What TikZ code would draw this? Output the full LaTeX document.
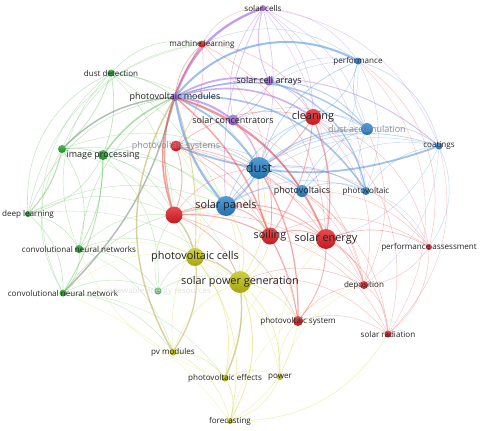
\documentclass[tikz,border=0pt]{standalone}
\usepackage{fontspec}
\setmainfont{Open Sans}
\usetikzlibrary{backgrounds}
\definecolor{vred}{RGB}{226,30,36}
\definecolor{vblue}{RGB}{40,132,205}
\definecolor{vgreen}{RGB}{38,165,45}
\definecolor{vpurple}{RGB}{160,105,220}
\definecolor{vyellow}{RGB}{195,195,20}
\definecolor{ered}{RGB}{240,85,85}
\definecolor{eblue}{RGB}{95,155,225}
\definecolor{egreen}{RGB}{100,190,95}
\definecolor{epurple}{RGB}{170,115,230}
\definecolor{eyellow}{RGB}{215,215,70}
\definecolor{eolive}{RGB}{185,170,70}
\definecolor{egray}{RGB}{115,135,125}
\definecolor{lbl}{RGB}{35,35,35}
\tikzstyle{kw}=[circle,inner sep=0pt,draw=none]
\tikzstyle{kred}=[kw,top color=vred!80!white,bottom color=vred!85!black]
\tikzstyle{kblue}=[kw,top color=vblue!80!white,bottom color=vblue!85!black]
\tikzstyle{kgreen}=[kw,top color=vgreen!80!white,bottom color=vgreen!85!black]
\tikzstyle{kpurple}=[kw,top color=vpurple!80!white,bottom color=vpurple!85!black]
\tikzstyle{kyellow}=[kw,top color=vyellow!80!white,bottom color=vyellow!85!black]
\tikzstyle{lbls}=[font=\fontsize{11.5}{12}\selectfont,text=lbl,inner sep=0pt]
\tikzstyle{lblm}=[font=\fontsize{12.8}{13}\selectfont,text=lbl,inner sep=0pt]
\tikzstyle{lbll}=[font=\fontsize{15.5}{16}\selectfont,text=lbl,inner sep=0pt]
\tikzstyle{lbld}=[font=\fontsize{18}{18}\selectfont,text=lbl,inner sep=0pt]
\tikzstyle{faded}=[text=black!45]

\begin{document}
\begin{tikzpicture}[x=0.5mm,y=-0.5mm]
\useasboundingbox (0,0) rectangle (480,431);

\node[kpurple,minimum size=3mm,label={[lbls]center:solar cells}] (solarcells) at (263,8) {};
\node[kpurple,minimum size=4mm,label={[lblm]center:photovoltaic modules}] (pvmodules) at (175,97) {};
\node[kpurple,minimum size=4.5mm,label={[lblm]center:solar cell arrays}] (cellarrays) at (269,81) {};
\node[kpurple,minimum size=5.5mm,label={[lblm]center:solar concentrators}] (concentrators) at (233,120) {};

\node[kred,minimum size=3.5mm,label={[lbls]center:machine learning}] (mlearning) at (202,44) {};
\node[kred,minimum size=8mm,label={[lbll]center:cleaning}] (cleaning) at (313,117) {};
\node[kred,minimum size=5.5mm,label={[lblm,faded]center:photovoltaic systems}] (pvsystems) at (176,146) {};
\node[kred,minimum size=8.5mm] (redhub) at (174,215) {};
\node[kred,minimum size=8.5mm,label={[lbll]center:soiling}] (soiling) at (270,236) {};
\node[kred,minimum size=10mm,label={[lbll]center:solar energy}] (solarenergy) at (326,239) {};
\node[kred,minimum size=3mm,label={[lbls]center:performance assessment}] (perfassess) at (429,247) {};
\node[kred,minimum size=4mm,label={[lbls]center:deposition}] (deposition) at (364,285) {};
\node[kred,minimum size=5mm,label={[lbls]center:photovoltaic system}] (pvsystem) at (298,321) {};
\node[kred,minimum size=3.5mm,label={[lbls]center:solar radiation}] (radiation) at (388,334) {};

\node[kblue,minimum size=3.5mm,label={[lbls]center:performance}] (performance) at (358,61) {};
\node[kblue,minimum size=6mm,label={[lblm,faded]center:dust accumulation}] (dustacc) at (367,129) {};
\node[kblue,minimum size=3.5mm,label={[lbls]center:coatings}] (coatings) at (439,146) {};
\node[kblue,minimum size=11mm,label={[lbld]center:dust}] (dust) at (259,168) {};
\node[kblue,minimum size=6mm,label={[lblm]center:photovoltaics}] (pvs) at (302,191) {};
\node[kblue,minimum size=4mm,label={[lbls]center:photovoltaic}] (pv) at (366,191) {};
\node[kblue,minimum size=10mm,label={[lbll]center:solar panels}] (panels) at (226,206) {};

\node[kgreen,minimum size=3.5mm,label={[lbls]center:dust detection}] (dustdet) at (111,73) {};
\node[kgreen,minimum size=4mm] (greenhub) at (62,149) {};
\node[kgreen,minimum size=5mm,label={[lblm]center:image processing}] (imgproc) at (103,155) {};
\node[kgreen,minimum size=3mm,label={[lbls]center:deep learning}] (deeplearn) at (28,214) {};
\node[kgreen,minimum size=4mm,label={[lbls]center:convolutional neural networks}] (cnns) at (79,249) {};
\node[kgreen,minimum size=3.5mm,label={[lbls]center:convolutional neural network}] (cnn) at (63,293) {};
\node[kgreen,minimum size=3.5mm,opacity=0.8,label={[lbls,text=black!12]center:renewable energy resources}] (renewable) at (158,291) {};

\node[kyellow,minimum size=9mm,label={[lbll]center:photovoltaic cells}] (pvcells) at (195,257) {};
\node[kyellow,minimum size=11mm,label={[lbll]center:solar power generation}] (spg) at (240,282) {};
\node[kyellow,minimum size=3.5mm,label={[lbls]center:pv modules}] (pvmod) at (173,352) {};
\node[kyellow,minimum size=3.5mm,label={[lbls]center:photovoltaic effects}] (pveffects) at (225,378) {};
\node[kyellow,minimum size=3mm,label={[lbls]center:power}] (power) at (280,377) {};
\node[kyellow,minimum size=3mm,label={[lbls]center:forecasting}] (forecasting) at (230,421) {};

\begin{scope}[on background layer]
\foreach \a/\b/\c/\w/\bb [evaluate=\w as \op using {min(0.3+0.15*\w,0.75)}] in {
  pvmodules/solarcells/epurple/2.6/25, pvmodules/cellarrays/epurple/2/20,
  pvmodules/concentrators/epurple/2.2/15, pvmodules/cleaning/epurple/1.8/25,
  pvmodules/pvs/epurple/1.2/20, cellarrays/solarcells/epurple/1/20,
  concentrators/solarcells/epurple/0.7/25, solarcells/performance/epurple/0.5/25,
  solarcells/dustacc/epurple/0.5/25, solarcells/cleaning/epurple/0.6/25,
  solarcells/dust/epurple/0.7/15, panels/solarcells/epurple/0.8/15,
  mlearning/solarcells/ered/0.5/30, cellarrays/concentrators/epurple/0.8/25,
  concentrators/dust/epurple/1/20, cellarrays/cleaning/epurple/0.8/20,
  solarcells/coatings/epurple/0.5/30, solarcells/pv/epurple/0.5/25,
  solarcells/solarenergy/epurple/0.5/20, pvmodules/coatings/epurple/1/30,
  pvmodules/performance/eblue/2.2/40, pvmodules/dust/eblue/2/15,
  panels/pvmodules/eblue/2.4/15, pvmodules/pv/eblue/1.8/30,
  pvmodules/dustacc/eblue/1.6/30, coatings/pvsystems/eblue/2/20,
  pvmodules/solarenergy/ered/2/25, pvmodules/soiling/ered/1.6/15,
  redhub/pvmodules/ered/1.8/20, redhub/mlearning/ered/1.4/25,
  pvmodules/mlearning/ered/0.8/20, solarenergy/pvsystem/ered/1/20,
  cleaning/solarenergy/ered/1.4/15, cleaning/soiling/ered/1/15,
  cleaning/dust/ered/1/15, soiling/dust/ered/1/15,
  redhub/soiling/ered/1.2/15, redhub/panels/ered/1/15,
  redhub/pvcells/eolive/1.6/15, pvsystems/soiling/ered/0.8/25,
  pvsystems/solarenergy/ered/0.8/25, pvsystems/redhub/ered/1/20,
  pvsystems/cleaning/ered/0.8/25, panels/solarenergy/ered/1/25,
  panels/soiling/ered/1/25, soiling/solarenergy/ered/1/25,
  solarenergy/deposition/ered/0.7/25, solarenergy/perfassess/ered/0.7/25,
  solarenergy/radiation/ered/0.6/25, deposition/radiation/ered/0.5/25,
  perfassess/radiation/ered/0.5/25, perfassess/deposition/ered/0.5/25,
  pvsystem/radiation/ered/0.5/25, pvsystem/deposition/ered/0.5/25,
  spg/deposition/ered/0.6/25, spg/radiation/ered/0.5/30,
  cleaning/perfassess/ered/0.5/30, cleaning/deposition/ered/0.5/30,
  cleaning/radiation/ered/0.5/35, soiling/radiation/ered/0.5/25,
  soiling/perfassess/ered/0.5/30, dust/deposition/ered/0.5/25,
  dust/perfassess/ered/0.5/30, pvs/perfassess/ered/0.5/25,
  mlearning/cleaning/ered/0.6/30, mlearning/solarenergy/ered/0.6/30,
  mlearning/soiling/ered/0.5/25, redhub/solarenergy/ered/0.8/25,
  redhub/spg/ered/0.8/25, redhub/pvsystem/ered/0.6/25,
  soiling/pvsystem/ered/1/10, dust/pvsystem/ered/1.4/15,
  pvsystems/pvsystem/ered/0.6/25, pvsystems/deposition/ered/0.5/25,
  redhub/deposition/ered/0.5/25, redhub/dust/ered/0.6/25,
  pvsystems/dust/ered/0.6/25, concentrators/soiling/ered/0.7/25,
  concentrators/deposition/ered/0.5/25, mlearning/pvsystems/ered/0.6/20,
  pvs/deposition/ered/0.5/25, pvs/radiation/ered/0.5/25,
  performance/perfassess/ered/0.5/35, performance/radiation/ered/0.4/40,
  coatings/radiation/ered/0.4/30, dustacc/deposition/ered/0.5/25,
  coatings/perfassess/eblue/0.5/30, radiation/forecasting/eyellow/0.6/30,
  dust/panels/eblue/1.6/15, dust/pvs/eblue/1.2/15,
  dust/dustacc/eblue/1.2/20, dust/pv/eblue/1/20,
  dust/performance/eblue/0.8/25, dust/coatings/eblue/0.8/25,
  dust/cleaning/eblue/0.8/20, dustacc/coatings/eblue/0.7/25,
  dustacc/performance/eblue/0.7/25, performance/coatings/eblue/0.6/30,
  performance/pv/eblue/0.5/25, performance/pvs/eblue/0.5/25,
  pvs/pv/eblue/0.7/25, pvs/dustacc/eblue/0.7/25,
  pv/coatings/eblue/0.6/25, pv/dustacc/eblue/0.6/25,
  cellarrays/pv/eblue/1.4/30, cellarrays/dustacc/eblue/1/25,
  cellarrays/performance/eblue/0.6/25, panels/dustacc/eblue/0.8/25,
  panels/pvs/eblue/0.8/25, panels/cleaning/eblue/0.8/25,
  panels/pv/eblue/0.6/25, panels/coatings/eblue/0.5/30,
  cleaning/dustacc/eblue/0.6/25, cleaning/pv/eblue/0.6/25,
  performance/cleaning/eblue/0.6/25, coatings/solarenergy/eblue/0.5/25,
  coatings/deposition/eblue/0.4/25, pv/perfassess/eblue/0.4/25,
  concentrators/dustacc/eblue/0.6/25, concentrators/performance/eblue/0.5/25,
  imgproc/dust/eblue/0.5/25, pvs/coatings/eblue/0.5/30,
  mlearning/performance/eblue/0.5/30, pvsystems/pvs/eblue/0.6/25,
  imgproc/pvmodules/egreen/1.6/15, greenhub/pvmodules/egray/1.6/20,
  pvmodules/cnn/egray/1.6/15, dustdet/imgproc/egreen/0.8/15,
  dustdet/greenhub/egreen/0.8/15, greenhub/imgproc/egreen/0.8/15,
  greenhub/deeplearn/egreen/1.2/15, greenhub/cnns/egreen/0.6/25,
  deeplearn/cnns/egreen/0.6/25, deeplearn/cnn/egreen/0.6/25,
  cnns/cnn/egreen/0.6/25, imgproc/cnns/egreen/0.8/15,
  imgproc/cnn/egreen/1/15, imgproc/deeplearn/egreen/0.6/25,
  deeplearn/dustdet/egreen/0.6/35, dustdet/mlearning/egreen/0.6/30,
  dustdet/pvmodules/egreen/0.8/15, dustdet/dust/egreen/0.5/25,
  dustdet/panels/egreen/0.5/15, cnn/renewable/egreen/0.5/25,
  cnns/renewable/egreen/0.5/25, imgproc/renewable/egreen/0.5/25,
  deeplearn/panels/egreen/0.5/25, imgproc/panels/egreen/0.6/25,
  cnn/panels/egreen/0.6/25, cnns/pvcells/egreen/0.5/25,
  renewable/spg/egreen/0.5/25, greenhub/dust/egreen/0.5/25,
  greenhub/panels/egreen/0.5/25, cnn/pvmod/egreen/0.5/25,
  deeplearn/mlearning/egreen/0.5/35, cnns/pvmodules/egreen/0.6/25,
  deeplearn/pvmodules/egreen/0.6/30, renewable/pvcells/egreen/0.5/25,
  renewable/redhub/egreen/0.5/25, cnn/dustdet/egreen/0.5/40,
  cnns/dustdet/egreen/0.5/35, cnn/greenhub/egreen/0.5/30,
  greenhub/mlearning/egreen/0.5/30, cnn/pveffects/egreen/0.4/25,
  cnns/pvmod/egreen/0.4/25, deeplearn/redhub/egreen/0.5/25,
  cnns/redhub/egreen/0.5/25, imgproc/redhub/egreen/0.6/25,
  dustdet/redhub/egreen/0.5/20, greenhub/pvcells/egreen/0.4/25,
  deeplearn/spg/egreen/0.4/25, imgproc/spg/egreen/0.4/25,
  pvmod/pvmodules/eolive/1.6/30, pvcells/pvmod/eolive/1.4/20,
  spg/pveffects/eolive/1.6/15, spg/forecasting/eyellow/1/25,
  pvcells/forecasting/eyellow/0.8/25, spg/power/eyellow/0.8/25,
  pveffects/forecasting/eyellow/0.8/25, pvmod/pveffects/eyellow/0.8/25,
  pvmod/forecasting/eyellow/0.6/25, power/forecasting/eyellow/0.6/25,
  pveffects/power/eyellow/0.6/25, pvcells/spg/eolive/1.2/20,
  pvcells/pveffects/eyellow/0.8/25, spg/pvsystem/eyellow/0.8/25,
  panels/spg/eyellow/0.8/25, dust/spg/eyellow/0.8/25,
  soiling/spg/eyellow/0.8/25, pvmod/panels/eyellow/0.6/25,
  pvmod/spg/eyellow/0.6/25, power/pvsystem/eyellow/0.6/25,
  pvsystem/forecasting/eyellow/0.5/25, power/solarenergy/eyellow/0.5/25,
  pvcells/power/eyellow/0.5/25, pvmodules/pvcells/eolive/1/10,
  cnns/spg/eyellow/0.4/25, cnn/pvcells/eyellow/0.4/25,
  pvsystems/spg/eyellow/0.6/25, pvsystems/pvcells/eyellow/0.6/25,
  cnn/forecasting/eyellow/0.4/15, pveffects/cnns/eyellow/0.4/25,
  forecasting/deposition/eyellow/0.4/30, power/deposition/eyellow/0.4/25,
  pveffects/solarenergy/eyellow/0.4/25}
  \draw[draw=\c,line width=\w*1.3pt,draw opacity=\op] (\a.center) to[bend left=\bb] (\b.center);
\end{scope}
\end{tikzpicture}
\end{document}
